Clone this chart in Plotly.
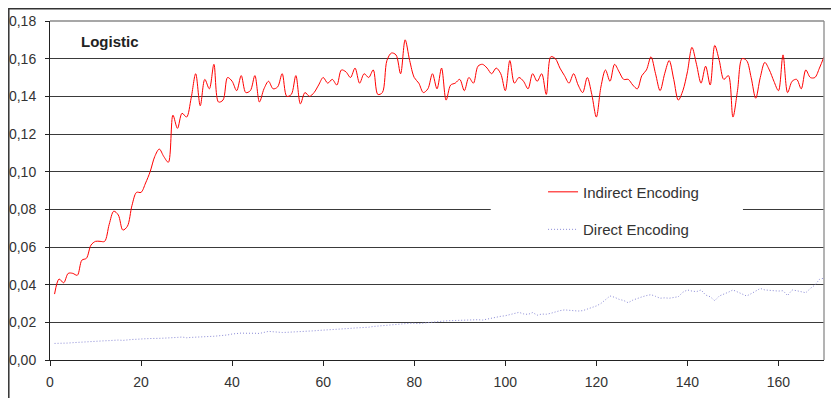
import plotly.graph_objects as go

generations = list(range(1, 171))

indirect_encoding = [
    0.035, 0.043, 0.041, 0.046, 0.046, 0.045, 0.053, 0.054, 0.061, 0.063,
    0.063, 0.063, 0.072, 0.079, 0.077, 0.069, 0.071, 0.082, 0.089, 0.089,
    0.094, 0.100, 0.108, 0.112, 0.108, 0.105, 0.130, 0.123, 0.131, 0.129,
    0.139, 0.152, 0.135, 0.149, 0.144, 0.157, 0.137, 0.138, 0.150, 0.148,
    0.143, 0.151, 0.142, 0.143, 0.151, 0.137, 0.144, 0.148, 0.144, 0.145,
    0.152, 0.140, 0.141, 0.151, 0.136, 0.142, 0.140, 0.142, 0.146, 0.150,
    0.147, 0.149, 0.146, 0.154, 0.153, 0.150, 0.155, 0.147, 0.152, 0.150,
    0.154, 0.141, 0.142, 0.159, 0.163, 0.162, 0.152, 0.170, 0.159, 0.150,
    0.147, 0.142, 0.144, 0.152, 0.144, 0.155, 0.138, 0.146, 0.147, 0.149,
    0.143, 0.150, 0.147, 0.156, 0.157, 0.155, 0.152, 0.155, 0.152, 0.143,
    0.159, 0.147, 0.150, 0.148, 0.144, 0.152, 0.148, 0.152, 0.141, 0.161,
    0.160, 0.155, 0.151, 0.147, 0.152, 0.146, 0.142, 0.150, 0.141, 0.129,
    0.145, 0.154, 0.148, 0.157, 0.153, 0.149, 0.149, 0.146, 0.144, 0.151,
    0.154, 0.161, 0.152, 0.143, 0.152, 0.159, 0.149, 0.138, 0.143, 0.153,
    0.166, 0.157, 0.147, 0.156, 0.146, 0.167, 0.159, 0.149, 0.151, 0.129,
    0.143, 0.160, 0.159, 0.150, 0.139, 0.150, 0.158, 0.154, 0.148, 0.143,
    0.162, 0.142, 0.148, 0.149, 0.144, 0.154, 0.150, 0.150, 0.155, 0.161,
]

direct_encoding = [
    0.0088, 0.0088, 0.0089, 0.0090, 0.0092, 0.0094, 0.0095, 0.0096, 0.0098, 0.0100,
    0.0101, 0.0102, 0.0103, 0.0105, 0.0106, 0.0104, 0.0108, 0.0109, 0.0110, 0.0113,
    0.0113, 0.0114, 0.0113, 0.0115, 0.0116, 0.0116, 0.0117, 0.0120, 0.0122, 0.0118,
    0.0120, 0.0122, 0.0122, 0.0124, 0.0125, 0.0126, 0.0127, 0.0128, 0.0133, 0.0138,
    0.0142, 0.0143, 0.0142, 0.0143, 0.0142, 0.0141, 0.0145, 0.0152, 0.0150, 0.0147,
    0.0146, 0.0147, 0.0148, 0.0149, 0.0150, 0.0150, 0.0153, 0.0155, 0.0157, 0.0158,
    0.0160, 0.0161, 0.0163, 0.0165, 0.0166, 0.0168, 0.0170, 0.0171, 0.0172, 0.0174,
    0.0178, 0.0180, 0.0183, 0.0186, 0.0190, 0.0191, 0.0192, 0.0194, 0.0195, 0.0195,
    0.0193, 0.0196, 0.0199, 0.0201, 0.0205, 0.0207, 0.0208, 0.0209, 0.0210, 0.0210,
    0.0211, 0.0211, 0.0212, 0.0214, 0.0212, 0.0218, 0.0224, 0.0228, 0.0232, 0.0235,
    0.0240, 0.0247, 0.0253, 0.0245, 0.0242, 0.0252, 0.0238, 0.0244, 0.0243, 0.0248,
    0.0256, 0.0262, 0.0266, 0.0264, 0.0262, 0.0260, 0.0262, 0.0270, 0.0280, 0.0287,
    0.0300, 0.0320, 0.0340, 0.0333, 0.0322, 0.0316, 0.0304, 0.0318, 0.0328, 0.0335,
    0.0342, 0.0347, 0.0338, 0.0328, 0.0330, 0.0328, 0.0332, 0.0336, 0.0360, 0.0372,
    0.0366, 0.0363, 0.0372, 0.0345, 0.0336, 0.0315, 0.0340, 0.0348, 0.0360, 0.0372,
    0.0362, 0.0350, 0.0340, 0.0352, 0.0368, 0.0380, 0.0372, 0.0368, 0.0368, 0.0366,
    0.0368, 0.0342, 0.0372, 0.0368, 0.0362, 0.0357, 0.0380, 0.0398, 0.0428, 0.0435,
]

x_ticks = [0, 20, 40, 60, 80, 100, 120, 140, 160]
y_ticks = [0.00, 0.02, 0.04, 0.06, 0.08, 0.10, 0.12, 0.14, 0.16, 0.18]
y_tick_labels = ["0,00", "0,02", "0,04", "0,06", "0,08", "0,10", "0,12", "0,14", "0,16", "0,18"]

FONT = "Liberation Sans, Arial, sans-serif"

# the page body has an 8px margin; size the figure so the plot area lands
# at x 50..824, y 21..360 of the 839x398 window
ML, MR, MT, MB = 42, 15, 13, 38
W, H = 831, 390
PW = W - ML - MR
PH = H - MT - MB

fig = go.Figure()
fig.add_trace(go.Scatter(
    x=generations, y=indirect_encoding, mode="lines", name="Indirect Encoding",
    line=dict(color="#ff0000", width=1, shape="spline", smoothing=0.9),
    legendgroup="a",
))
fig.add_trace(go.Scatter(
    x=generations, y=direct_encoding, mode="lines", name="Direct Encoding",
    line=dict(color="#8a8ad6", width=1, dash="1px,2px"),
    legendgroup="b",
))

fig.update_layout(
    width=W, height=H,
    margin=dict(l=ML, r=MR, t=MT, b=MB, autoexpand=False),
    paper_bgcolor="white", plot_bgcolor="white",
    font=dict(family=FONT, size=14, color="#333333"),
    showlegend=True,
    legend=dict(
        x=0.637, y=0.544, xanchor="left", yanchor="top",
        bgcolor="rgba(0,0,0,0)", borderwidth=0,
        font=dict(family=FONT, size=15, color="#333333"),
        traceorder="grouped", tracegroupgap=15,
    ),
    xaxis=dict(
        range=[0, 170], tickvals=x_ticks, ticktext=[str(v) for v in x_ticks],
        showgrid=False, zeroline=False, automargin=False,
        showline=True, linecolor="#222222", linewidth=1,
        ticks="outside", ticklen=5, tickcolor="#222222",
        ticklabelstandoff=4,
    ),
    yaxis=dict(
        range=[0, 0.18], tickvals=y_ticks, ticktext=y_tick_labels,
        showgrid=True, gridcolor="#3a3a3a", gridwidth=1,
        zeroline=False, automargin=False,
        showline=True, linecolor="#222222", linewidth=1,
        ticks="outside", ticklen=4, tickcolor="#222222",
        ticklabelstandoff=6,
    ),
    shapes=[
        # white box behind the legend (covers gridlines)
        dict(type="rect", xref="x", yref="y", x0=96.8, x1=152.2, y0=0.0605, y1=0.0985,
             fillcolor="white", line=dict(width=0), layer="between"),
        # right border of plot area
        dict(type="line", xref="paper", yref="paper", x0=1, x1=1, y0=0, y1=1,
             line=dict(color="#9a9a9a", width=1.5)),
        # top border of plot area
        dict(type="line", xref="paper", yref="paper", x0=0, x1=1, y0=1, y1=1,
             line=dict(color="#8a8a8a", width=1.5)),
        # outer chart frame
        dict(type="rect", xref="paper", yref="paper",
             x0=-(ML - 0.8) / PW, x1=1.05, y0=-0.2, y1=(PH + MT - 0.8) / PH,
             line=dict(color="#333333", width=1.5), fillcolor="rgba(0,0,0,0)"),
    ],
    annotations=[
        dict(text="<b>Logistic</b>", xref="paper", yref="paper",
             x=(79 - 50) / PW, y=(360 - 41) / PH, xanchor="left", yanchor="middle",
             showarrow=False, font=dict(family=FONT, size=15, color="#222222")),
    ],
)

fig.write_html("out.html")
